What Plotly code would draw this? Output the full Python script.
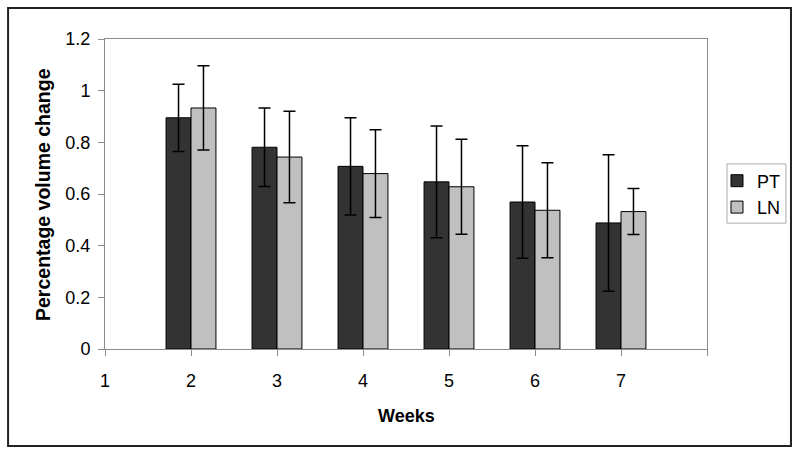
import plotly.graph_objects as go

weeks = [2, 3, 4, 5, 6, 7]
pt_values = [0.895, 0.781, 0.707, 0.647, 0.569, 0.488]
pt_errors = [0.130, 0.152, 0.188, 0.216, 0.218, 0.264]
ln_values = [0.933, 0.743, 0.679, 0.628, 0.537, 0.532]
ln_errors = [0.163, 0.177, 0.170, 0.184, 0.184, 0.089]
x_tick_vals = [1, 2, 3, 4, 5, 6, 7, 8]
x_tick_text = ["1", "2", "3", "4", "5", "6", "7", ""]

FONT = "Liberation Sans, Arial, sans-serif"

fig = go.Figure()
fig.add_trace(go.Bar(
    x=weeks, y=pt_values, name="PT",
    marker=dict(color="#333333", line=dict(color="#000000", width=1)),
    error_y=dict(type="data", array=pt_errors, visible=True,
                 color="#000000", thickness=1.5, width=6),
))
fig.add_trace(go.Bar(
    x=weeks, y=ln_values, name="LN",
    marker=dict(color="#c0c0c0", line=dict(color="#000000", width=1)),
    error_y=dict(type="data", array=ln_errors, visible=True,
                 color="#000000", thickness=1.5, width=6),
))

fig.update_layout(
    width=800, height=456,
    margin=dict(l=105, r=93, t=39, b=107, autoexpand=False),
    paper_bgcolor="white", plot_bgcolor="white",
    barmode="group", bargap=0.42, bargroupgap=0,
    font=dict(family=FONT, size=17, color="#000000"),
    showlegend=True,
    legend=dict(
        x=1.0166, y=0.5, xanchor="left", yanchor="middle",
        borderwidth=0, bgcolor="rgba(0,0,0,0)",
        font=dict(family=FONT, size=18, color="#000000"),
        itemwidth=30, tracegroupgap=4,
    ),
    xaxis=dict(
        range=[1, 8], tickmode="array", tickvals=x_tick_vals, ticktext=x_tick_text,
        showline=True, linecolor="#8c8c8c", linewidth=1, mirror=True,
        ticks="outside", ticklen=6, tickcolor="#8c8c8c",
        showgrid=False, zeroline=False, ticklabelstandoff=9,
        tickfont=dict(family=FONT, size=18),
    ),
    yaxis=dict(
        range=[0, 1.2], dtick=0.2, tick0=0,
        showline=True, linecolor="#8c8c8c", linewidth=1, mirror=True,
        ticks="outside", ticklen=6, tickcolor="#8c8c8c",
        showgrid=False, zeroline=False, ticklabelstandoff=4,
        tickfont=dict(family=FONT, size=18),
    ),
    annotations=[
        dict(text="<b>Percentage volume change</b>", xref="paper", yref="paper",
             x=-0.103, y=0.5, xanchor="center", yanchor="middle", textangle=-90,
             showarrow=False, font=dict(family=FONT, size=19.5)),
        dict(text="<b>Weeks</b>", xref="paper", yref="paper",
             x=0.5, y=-0.216, xanchor="center", yanchor="middle",
             showarrow=False, font=dict(family=FONT, size=18)),
    ],
    shapes=[
        dict(type="rect", xref="paper", yref="paper",
             x0=-0.161, x1=1.1395, y0=-0.313, y1=1.1,
             line=dict(color="#222222", width=2), fillcolor="rgba(0,0,0,0)"),
        dict(type="rect", xref="paper", yref="paper",
             x0=1.0332, x1=1.1312, y0=0.406, y1=0.597,
             line=dict(color="#aaaaaa", width=1), fillcolor="rgba(0,0,0,0)"),
    ],
)

fig.write_html(
    "out.html",
    config={"displayModeBar": False},
    post_script="document.body.style.margin='0px';document.body.style.overflow='hidden';",
)
